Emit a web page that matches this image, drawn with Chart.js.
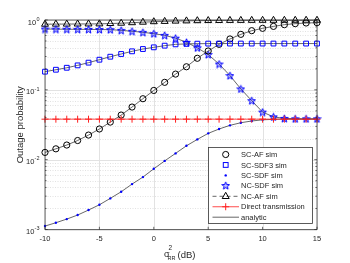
<!DOCTYPE html>
<html>
<head>
<meta charset="utf-8">
<script src="https://cdn.jsdelivr.net/npm/chart.js@4/dist/chart.umd.min.js"></script>
<style>
  html, body { margin: 0; padding: 0; background: #fff; }
  #wrap { width: 350px; height: 263px; position: relative; }
</style>
</head>
<body>
<div id="wrap"><canvas id="outageChart" width="350" height="263"></canvas></div>
<script>
// sigma_RR^2 in dB
const snrDb = [-10, -9, -8, -7, -6, -5, -4, -3, -2, -1, 0, 1, 2, 3, 4, 5, 6, 7, 8, 9, 10, 11, 12, 13, 14, 15];

const scAF = [0.0127, 0.0143, 0.0162, 0.0188, 0.0225, 0.0275, 0.0345, 0.0435, 0.0567, 0.0746, 0.098, 0.128, 0.168,
  0.214, 0.283, 0.36, 0.448, 0.535, 0.623, 0.703, 0.76, 0.81, 0.857, 0.886, 0.906, 0.916];
const scSDF3 = [0.182, 0.194, 0.207, 0.224, 0.245, 0.27, 0.298, 0.326, 0.356, 0.384, 0.406, 0.429, 0.448,
  0.455, 0.458, 0.459, 0.46, 0.46, 0.46, 0.46, 0.46, 0.46, 0.46, 0.46, 0.46, 0.46];
const scSDF = [0.00112, 0.00125, 0.00141, 0.00161, 0.0019, 0.00226, 0.00279, 0.00347, 0.00447, 0.00563, 0.0074, 0.0096, 0.0123,
  0.0158, 0.0195, 0.0238, 0.0275, 0.031, 0.0338, 0.0358, 0.0372, 0.0378, 0.038, 0.038, 0.038, 0.038];
const ncSDF = [0.743, 0.74, 0.737, 0.735, 0.733, 0.73, 0.727, 0.711, 0.69, 0.666, 0.637, 0.603, 0.55,
  0.48, 0.40, 0.32, 0.234, 0.16, 0.103, 0.070, 0.048, 0.041, 0.039, 0.0385, 0.0385, 0.0385];
const ncAF = [0.87, 0.872, 0.874, 0.876, 0.878, 0.88, 0.89, 0.9, 0.915, 0.93, 0.945, 0.955, 0.965,
  0.972, 0.978, 0.982, 0.985, 0.987, 0.988, 0.989, 0.99, 0.99, 0.991, 0.991, 0.992, 0.992];
const direct = [0.038, 0.038, 0.038, 0.038, 0.038, 0.038, 0.038, 0.038, 0.038, 0.038, 0.038, 0.038, 0.038,
  0.038, 0.038, 0.038, 0.038, 0.038, 0.038, 0.038, 0.038, 0.038, 0.038, 0.038, 0.038, 0.038];

const xTicks = [-10, -5, 0, 5, 10, 15];
const yExponents = [0, -1, -2, -3];

const legendLabels = ['SC-AF sim', 'SC-SDF3 sim', 'SC-SDF sim', 'NC-SDF sim', 'NC-AF sim', 'Direct transmission', 'analytic'];

const BLUE = '#0000ff';
const RED = '#ff2020';
const LINE = '#404040';
const TEXT = '#262626';

function toPoints(arr) {
  return arr.map((v, i) => ({ x: snrDb[i], y: v }));
}

// pentagram marker as a small canvas (Chart.js has no pentagram)
function starPath(ctx, cx, cy, r) {
  const ri = r * 0.42;
  ctx.beginPath();
  for (let i = 0; i < 10; i++) {
    const rr = i % 2 === 0 ? r : ri;
    const a = -Math.PI / 2 + i * Math.PI / 5;
    const px = cx + rr * Math.cos(a);
    const py = cy + rr * Math.sin(a);
    if (i === 0) ctx.moveTo(px, py); else ctx.lineTo(px, py);
  }
  ctx.closePath();
}
function makeStar() {
  const c = document.createElement('canvas');
  c.width = 9; c.height = 9;
  const g = c.getContext('2d');
  starPath(g, 4.5, 4.9, 4);
  g.fillStyle = 'rgba(0,0,255,0.25)';
  g.fill();
  g.strokeStyle = BLUE;
  g.lineWidth = 1;
  g.stroke();
  return c;
}
const starImg = makeStar();

function drawMarker(ctx, type, x, y) {
  ctx.save();
  ctx.lineWidth = 1;
  if (type === 'circle') {
    ctx.strokeStyle = '#000';
    ctx.beginPath(); ctx.arc(x, y, 3.1, 0, Math.PI * 2); ctx.stroke();
  } else if (type === 'square') {
    ctx.strokeStyle = BLUE;
    ctx.strokeRect(x - 2.4, y - 2.4, 4.8, 4.8);
  } else if (type === 'dot') {
    ctx.fillStyle = BLUE;
    ctx.beginPath(); ctx.arc(x, y, 1.2, 0, Math.PI * 2); ctx.fill();
  } else if (type === 'star') {
    ctx.drawImage(starImg, x - 4.5, y - 4.9);
  } else if (type === 'triangle') {
    ctx.strokeStyle = '#000';
    ctx.beginPath();
    ctx.moveTo(x, y - 4); ctx.lineTo(x + 3.5, y + 2.2); ctx.lineTo(x - 3.5, y + 2.2); ctx.closePath();
    ctx.stroke();
  } else if (type === 'plus') {
    ctx.strokeStyle = RED;
    ctx.beginPath();
    ctx.moveTo(x - 3.5, y); ctx.lineTo(x + 3.5, y);
    ctx.moveTo(x, y - 3.5); ctx.lineTo(x, y + 3.5);
    ctx.stroke();
  }
  ctx.restore();
}

const gridPlugin = {
  id: 'matlabAxes',
  beforeDatasetsDraw(chart) {
    const { ctx, chartArea: a, scales: { x, y } } = chart;
    ctx.save();
    ctx.lineWidth = 0.6;
    // minor log grid (dotted)
    ctx.strokeStyle = '#cfcfcf';
    ctx.setLineDash([1, 1.5]);
    for (let e = -3; e < 0; e++) {
      for (let k = 2; k <= 9; k++) {
        const py = Math.round(y.getPixelForValue(k * Math.pow(10, e))) + 0.5;
        ctx.beginPath(); ctx.moveTo(a.left, py); ctx.lineTo(a.right, py); ctx.stroke();
      }
    }
    // major grid
    ctx.setLineDash([]);
    ctx.strokeStyle = '#e2e2e2';
    ctx.lineWidth = 1;
    yExponents.forEach(e => {
      const py = Math.round(y.getPixelForValue(Math.pow(10, e))) + 0.5;
      ctx.beginPath(); ctx.moveTo(a.left, py); ctx.lineTo(a.right, py); ctx.stroke();
    });
    xTicks.forEach(t => {
      const px = Math.round(x.getPixelForValue(t)) + 0.5;
      ctx.beginPath(); ctx.moveTo(px, a.top); ctx.lineTo(px, a.bottom); ctx.stroke();
    });
    ctx.restore();
  },
  afterDraw(chart) {
    const { ctx, chartArea: a, scales: { x, y } } = chart;
    ctx.save();
    // box
    ctx.strokeStyle = TEXT;
    ctx.lineWidth = 0.7;
    ctx.strokeRect(a.left, a.top, a.right - a.left, a.bottom - a.top);
    // ticks (inward)
    ctx.beginPath();
    xTicks.forEach(t => {
      const px = x.getPixelForValue(t);
      ctx.moveTo(px, a.bottom); ctx.lineTo(px, a.bottom - 2.7);
      ctx.moveTo(px, a.top); ctx.lineTo(px, a.top + 2.7);
    });
    for (let e = -3; e <= 0; e++) {
      const py = y.getPixelForValue(Math.pow(10, e));
      ctx.moveTo(a.left, py); ctx.lineTo(a.left + 2.7, py);
      ctx.moveTo(a.right, py); ctx.lineTo(a.right - 2.7, py);
      if (e < 0) {
        for (let k = 2; k <= 9; k++) {
          const pm = y.getPixelForValue(k * Math.pow(10, e));
          ctx.moveTo(a.left, pm); ctx.lineTo(a.left + 1.5, pm);
          ctx.moveTo(a.right, pm); ctx.lineTo(a.right - 1.5, pm);
        }
      }
    }
    ctx.stroke();

    // tick labels
    ctx.fillStyle = TEXT;
    ctx.font = '7.5px "Liberation Sans", Arial, sans-serif';
    ctx.textAlign = 'center';
    ctx.textBaseline = 'middle';
    xTicks.forEach(t => {
      ctx.fillText(String(t), x.getPixelForValue(t), a.bottom + 9.5);
    });
    yExponents.forEach(e => {
      const py = y.getPixelForValue(Math.pow(10, e));
      const sup = String(e);
      ctx.textAlign = 'right';
      ctx.textBaseline = 'alphabetic';
      ctx.font = '5.5px "Liberation Sans", Arial, sans-serif';
      const sw = ctx.measureText(sup).width;
      ctx.fillText(sup, a.left - 5.5, py + 0.8);
      ctx.font = '7.5px "Liberation Sans", Arial, sans-serif';
      ctx.fillText('10', a.left - 5.8 - sw, py + 4.5);
    });

    // axis titles
    ctx.save();
    ctx.translate(20, (a.top + a.bottom) / 2);
    ctx.rotate(-Math.PI / 2);
    ctx.textAlign = 'center';
    ctx.textBaseline = 'middle';
    ctx.font = '9.5px "Liberation Sans", Arial, sans-serif';
    ctx.fillText('Outage probability', 0, 0);
    ctx.restore();

    ctx.textAlign = 'left';
    ctx.textBaseline = 'alphabetic';
    ctx.font = '9px "Liberation Sans", Arial, sans-serif';
    ctx.fillText('\u03c3', 164, 256.5);
    ctx.font = '6.5px "Liberation Sans", Arial, sans-serif';
    ctx.fillText('2', 168.5, 249.5);
    ctx.font = '5.5px "Liberation Sans", Arial, sans-serif';
    ctx.fillText('RR', 167.5, 259.8);
    ctx.font = '9.5px "Liberation Sans", Arial, sans-serif';
    ctx.fillText('(dB)', 177.5, 257.5);

    // legend
    const lx = 208.5, ly = 147.5, lw = 104, lh = 76;
    ctx.fillStyle = '#fff';
    ctx.fillRect(lx, ly, lw, lh);
    ctx.strokeStyle = '#333';
    ctx.lineWidth = 0.8;
    ctx.strokeRect(lx, ly, lw, lh);
    const markers = ['circle', 'square', 'dot', 'star', 'triangle', 'plus', null];
    const symX = 225.7;
    ctx.font = '7.5px "Liberation Sans", Arial, sans-serif';
    legendLabels.forEach((label, i) => {
      const ry = 154.5 + i * 10.45;
      if (i === 4) {
        ctx.save();
        ctx.strokeStyle = '#404040';
        ctx.lineWidth = 0.8;
        ctx.setLineDash([4, 3]);
        ctx.beginPath(); ctx.moveTo(212.5, ry); ctx.lineTo(239, ry); ctx.stroke();
        ctx.restore();
      } else if (i === 5) {
        ctx.save();
        ctx.strokeStyle = RED; ctx.lineWidth = 0.8;
        ctx.beginPath(); ctx.moveTo(212.5, ry); ctx.lineTo(239, ry); ctx.stroke();
        ctx.restore();
      } else if (i === 6) {
        ctx.save();
        ctx.strokeStyle = LINE; ctx.lineWidth = 0.8;
        ctx.beginPath(); ctx.moveTo(212.5, ry); ctx.lineTo(239, ry); ctx.stroke();
        ctx.restore();
      }
      if (markers[i]) drawMarker(ctx, markers[i], symX, ry);
      ctx.fillStyle = TEXT;
      ctx.textAlign = 'left';
      ctx.textBaseline = 'middle';
      ctx.fillText(label, 241, ry + 0.5);
    });
    ctx.restore();
  }
};

const common = {
  borderColor: LINE,
  borderWidth: 0.8,
  tension: 0,
  clip: false,
  pointBackgroundColor: 'rgba(0,0,0,0)',
  pointBorderWidth: 1
};

new Chart(document.getElementById('outageChart').getContext('2d'), {
  type: 'line',
  data: {
    datasets: [
      Object.assign({}, common, { label: 'Direct transmission', data: toPoints(direct), borderColor: RED,
        pointStyle: 'cross', pointRadius: 3.5, pointBorderColor: RED }),
      Object.assign({}, common, { label: 'SC-SDF sim', data: toPoints(scSDF),
        pointStyle: 'circle', pointRadius: 1.2, pointBorderWidth: 0, pointBackgroundColor: BLUE, pointBorderColor: BLUE }),
      Object.assign({}, common, { label: 'SC-SDF3 sim', data: toPoints(scSDF3),
        pointStyle: 'rect', pointRadius: 3.4, pointBorderColor: BLUE }),
      Object.assign({}, common, { label: 'SC-AF sim', data: toPoints(scAF),
        pointStyle: 'circle', pointRadius: 3.1, pointBorderColor: '#000' }),
      Object.assign({}, common, { label: 'NC-SDF sim', data: toPoints(ncSDF),
        pointStyle: starImg, pointRadius: 4, pointBorderColor: BLUE }),
      Object.assign({}, common, { label: 'NC-AF sim', data: toPoints(ncAF),
        pointStyle: 'triangle', pointRadius: 4, pointBorderColor: '#000' })
    ]
  },
  options: {
    responsive: false,
    animation: false,
    layout: { padding: { left: 0, right: 33, top: 20, bottom: 0 } },
    plugins: { legend: { display: false }, tooltip: { enabled: false } },
    scales: {
      x: {
        type: 'linear',
        min: -10,
        max: 15,
        grid: { display: false, drawTicks: false },
        border: { display: false },
        ticks: { display: false },
        afterFit: s => { s.height = 33.5; }
      },
      y: {
        type: 'logarithmic',
        min: 0.001,
        max: 1,
        grid: { display: false, drawTicks: false },
        border: { display: false },
        ticks: { display: false },
        afterFit: s => { s.width = 45; }
      }
    }
  },
  plugins: [gridPlugin]
});
</script>
</body>
</html>
